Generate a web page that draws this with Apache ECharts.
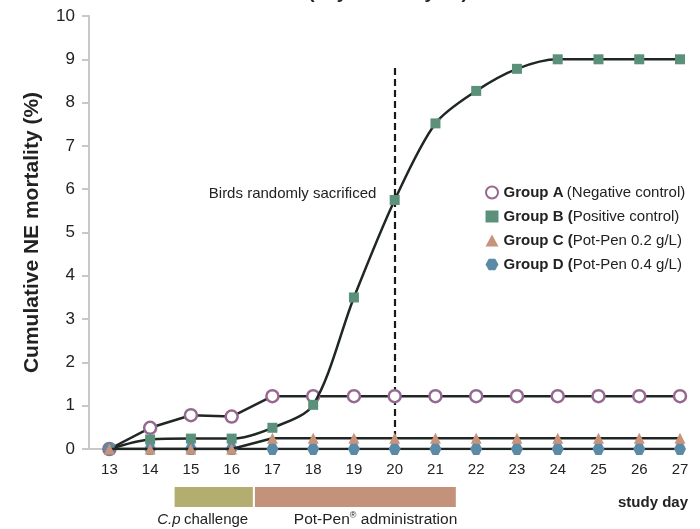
<!DOCTYPE html>
<html><head><meta charset="utf-8">
<script src="https://cdn.jsdelivr.net/npm/echarts@6/dist/echarts.min.js"></script>
<style>html,body{margin:0;padding:0;background:#fff}#c{width:700px;height:529px}</style>
</head><body><div id="c"></div>
<script>
const days = [13,14,15,16,17,18,19,20,21,22,23,24,25,26,27];
const groupA = [0,0.49,0.78,0.75,1.22,1.22,1.22,1.22,1.22,1.22,1.22,1.22,1.22,1.22,1.22];
const groupB = [0,0.22,0.24,0.24,0.49,1.02,3.5,5.75,7.52,8.27,8.78,9,9,9,9];
const groupC = [0,0,0,0,0.25,0.25,0.25,0.25,0.25,0.25,0.25,0.25,0.25,0.25,0.25];
const groupD = [0,0,0,0,0,0,0,0,0,0,0,0,0,0,0];
const groupNames = ['Group A','Group B','Group C','Group D'];
const groupDesc = ['(Negative control)','(Positive control)','(Pot-Pen 0.2 g/L)','(Pot-Pen 0.4 g/L)'];
const yTicks = [0,1,2,3,4,5,6,7,8,9,10];
const sacrificeDay = 20;
const sacrificeTop = 8.8;
const phases = [
  {name:'challenge', start:14.6, end:16.52, color:'#b3ad6f', labelAt:15.29},
  {name:'admin', start:16.57, end:21.5, color:'#c4917b', labelAt:19.53}
];
const FONT = '"Liberation Sans Narrow","Liberation Sans",Arial,sans-serif';
const pair = arr => days.map((d,i)=>[d,arr[i]]);
const hex = 'path://M-1,0 L-0.5,-0.866 L0.5,-0.866 L1,0 L0.5,0.866 L-0.5,0.866 Z';
const lineCol = '#1f2623';
const icons = ['circle','rect','triangle',hex];
const chart = echarts.init(document.getElementById('c'));
const option = {
  animation:false,
  textStyle:{fontFamily:FONT},
  title:{text:'(day 13 to day 27)', left:383, textAlign:'center', top:-22,
    textStyle:{fontFamily:FONT,fontSize:19,fontWeight:'bold',color:'#222'}},
  grid:{left:89,right:20,top:16,bottom:80},
  legend:{orient:'vertical', left:480, top:180, itemGap:9, itemWidth:13, itemHeight:12,
    data:groupNames.map((n,i)=>({name:n, icon:icons[i]})),
    formatter:function(n){const i=groupNames.indexOf(n);
      const d=groupDesc[i];
      if(i===0) return '{b|'+n+'} {n|'+d+'}';
      return '{b|'+n+' (}{n|'+d.slice(1)+'}';},
    textStyle:{rich:{b:{fontFamily:FONT,fontSize:15,fontWeight:'bold',color:'#222'},
      n:{fontFamily:FONT,fontSize:15,color:'#222'}}}},
  xAxis:{type:'value', min:12.5, max:27,
    axisLine:{show:true,lineStyle:{color:'#c6c8ca',width:2}},
    axisTick:{show:false}, splitLine:{show:false},
    axisLabel:{customValues:days, color:'#222', fontSize:15, margin:13, fontFamily:FONT},
    name:'study day', nameLocation:'end', nameGap:0,
    nameTextStyle:{fontFamily:FONT,fontSize:15,fontWeight:'bold',color:'#222',
      align:'right', verticalAlign:'top', padding:[46,-8,0,0]}},
  yAxis:{type:'value', min:0, max:10, interval:1,
    axisLine:{show:true,lineStyle:{color:'#c6c8ca',width:2}},
    axisTick:{show:true,length:7,lineStyle:{color:'#c6c8ca',width:2}},
    splitLine:{show:false},
    axisLabel:{color:'#222',fontSize:17,margin:14,fontFamily:FONT,
      formatter:v=>yTicks.includes(v)?String(v):''},
    name:'Cumulative NE mortality (%)', nameLocation:'middle', nameGap:46,
    nameTextStyle:{fontFamily:FONT,fontSize:21,fontWeight:'bold',color:'#222'}},
  series:[
    {name:'Group A', type:'line', data:pair(groupA), symbol:'circle', symbolSize:12, z:2,
      lineStyle:{color:lineCol,width:2.5},
      itemStyle:{color:'#fff',borderColor:'#95698f',borderWidth:2.5}},
    {name:'Group B', type:'line', data:pair(groupB), symbol:'rect', symbolSize:10, z:3, smooth:0.3,
      lineStyle:{color:lineCol,width:2.5},
      itemStyle:{color:'#5b917a'},
      markLine:{silent:true, symbol:'none', z:1, label:{show:false},
        lineStyle:{color:'#1a1a1a',type:[7,4],width:2.2},
        data:[[{coord:[sacrificeDay,0]},{coord:[sacrificeDay,sacrificeTop]}]]},
      markPoint:{silent:true, symbol:'circle', symbolSize:0,
        data:[{coord:[19.55,5.9]}],
        label:{show:true,position:'left',distance:0,formatter:'Birds randomly sacrificed',
          color:'#222',fontSize:15,fontFamily:FONT}}},
    {name:'Group D', type:'line', data:pair(groupD), symbol:hex, symbolSize:12, z:4,
      lineStyle:{color:lineCol,width:2.5},
      itemStyle:{color:'#5b8aa7'}},
    {name:'Group C', type:'line', data:pair(groupC), symbol:'triangle', symbolSize:11, z:5,
      lineStyle:{color:lineCol,width:2.5},
      itemStyle:{color:'#c8937b'}}
  ]
};
chart.setOption(option);
const px = v => chart.convertToPixel({xAxisIndex:0}, v);
const g = [];
phases.forEach(p=>{
  const x0 = px(p.start), x1 = px(p.end);
  g.push({type:'rect', shape:{x:x0,y:487,width:x1-x0,height:20}, style:{fill:p.color}});
});
g.push({type:'text', x:px(phases[0].labelAt), y:520, style:{text:'{i|C.p} {n|challenge}', align:'center', verticalAlign:'middle',
  rich:{i:{fontFamily:FONT,fontSize:15,fontStyle:'italic',fill:'#222'},n:{fontFamily:FONT,fontSize:15,fill:'#222'}}}});
g.push({type:'text', x:px(phases[1].labelAt), y:520, style:{text:'{n|Pot-Pen}{s|®}{n| administration}', align:'center', verticalAlign:'middle',
  rich:{n:{fontFamily:FONT,fontSize:15.5,fill:'#222'},s:{fontFamily:FONT,fontSize:9,fill:'#222',verticalAlign:'top',padding:[0,0,8,0]}}}});
chart.setOption({graphic:g});
</script></body></html>
